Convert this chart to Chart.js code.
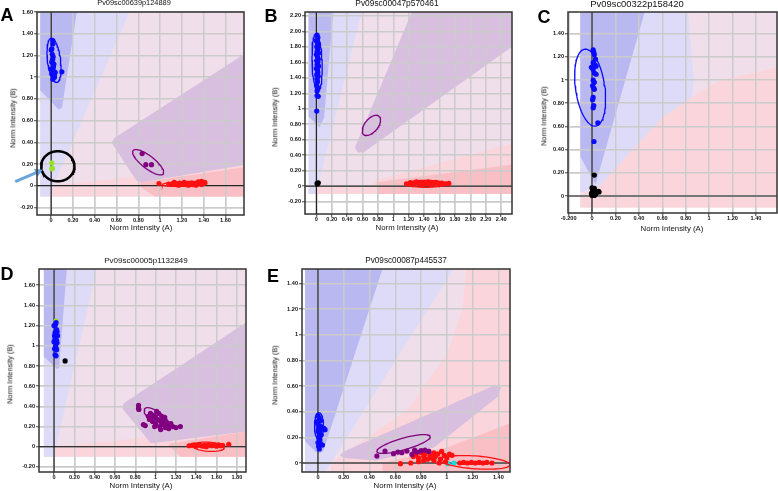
<!DOCTYPE html>
<html>
<head>
<meta charset="utf-8">
<script src="https://cdn.jsdelivr.net/npm/chart.js@4.4.1/dist/chart.umd.min.js"></script>
<style>
  body { margin: 0; background: #fff; width: 778px; height: 491px; position: relative; overflow: hidden; font-family: "Liberation Sans", Arial, sans-serif; }
  canvas { position: absolute; }
  .txt { position: absolute; white-space: nowrap; line-height: 1; color: #111; transform: translate(-50%, -50%); }
  .letter { font-weight: bold; font-size: 18px; color: #000; }
  .ytitle { transform: translate(-50%, -50%) rotate(-90deg); }
</style>
</head>
<body>
<script>
// --- texts ---
const panelLetters = ['A', 'B', 'C', 'D', 'E'];
const panelTitles = ['Pv09sc00639p124889', 'Pv09sc00047p570461', 'Pv09sc00322p158420', 'Pv09sc00005p1132849', 'Pv09sc00087p445537'];
const xAxisTitle = 'Norm Intensity (A)';
const yAxisTitle = 'Norm Intensity (B)';

// --- axis ranges (x, y) ---
const rangeA = [[-0.13, 1.77], [-0.27, 1.60]];
const rangeB = [[-0.147, 2.54], [-0.36, 2.25]];
const rangeC = [[-0.205, 1.58], [-0.147, 1.587]];
const rangeD = [[-0.148, 1.89], [-0.25, 1.76]];
const rangeE = [[-0.124, 1.49], [-0.07, 1.512]];

// --- panel A ---
const aBlue = [[0.015,1.336],[0.015,1.305],[0.006,1.26],[0.01,1.21],[0.018,1.19],[0.015,1.167],[0.006,1.136],[0.025,1.12],[0.021,1.105],[-0.003,1.074],[0.021,1.058],[0.037,1.043],[0.098,1.049],[0.006,1.028],[0.03,1.01],[0.015,0.981],[0.02,1.09],[0.01,1.15],[0.03,1.0],[0.0,1.25]];
const aGreen = [[0.006,0.21],[0.006,0.155],[0.012,0.16]];
const aPurple = [[0.835,0.296],[0.869,0.194],[0.921,0.194]];
const aRed = [[0.99,0.02],[1.08,0.015],[1.12,0.02],[1.15,0.01],[1.18,0.025],[1.2,0.015],[1.22,0.03],[1.24,0.01],[1.25,0.02],[1.27,0.015],[1.29,0.025],[1.3,0.01],[1.32,0.02],[1.34,0.015],[1.35,0.035],[1.36,0.02],[1.38,0.04],[1.38,0.01],[1.4,0.02],[1.41,0.03],[1.17,0.005],[1.26,0.005],[1.33,0.005],[1.13,0.03]];
// ellipses: [cx, cy, semi-major, semi-minor, angle deg]
const aBlueEll = [0.026, 1.155, 0.205, 0.06, 97];
const aPurpleEll = [0.89, 0.216, 0.175, 0.058, -38];
const aRedEll = [1.225, 0.016, 0.205, 0.022, 2];
const aCircle = [0.061, 0.179, 0.153, 0.139, 0];
const aArrow = [[-0.33, 0.037], [-0.12, 0.128]];
const aBase = [[-0.1,-0.1],[-0.1,1.6],[1.77,1.6],[1.77,-0.1]];
const aLightRed = [[0.0,-0.1],[0.02,0.0],[1.77,0.2],[1.77,-0.1]];
const aLightBlue = [[-0.1,-0.1],[-0.1,1.6],[0.72,1.6],[0.02,0.0],[0.0,-0.1]];
const aDarkBlue = [[-0.1,1.6],[0.235,1.6],[0.1,0.72],[0.07,0.70],[-0.1,0.88]];
const aPurpleZone = [[0.555,0.395],[0.58,0.44],[1.77,1.21],[1.77,0.19],[0.82,0.03],[0.78,0.05]];
const aDarkRed = [[0.82,0.03],[1.77,0.17],[1.77,-0.1],[0.95,-0.1],[0.82,-0.01]];

// --- panel B ---
const bBlue = [[0.01,1.95],[0.02,1.92],[0.0,1.88],[0.015,1.85],[0.025,1.82],[0.005,1.8],[0.02,1.77],[0.01,1.74],[0.03,1.72],[0.0,1.7],[0.015,1.67],[0.025,1.64],[0.005,1.62],[0.02,1.6],[0.01,1.57],[0.03,1.55],[0.0,1.52],[0.015,1.5],[0.02,1.47],[0.005,1.44],[0.025,1.42],[0.01,1.38],[0.015,1.35],[0.005,1.3],[0.02,1.27],[0.01,1.23],[0.01,1.17],[0.025,1.16],[0.005,0.97]];
const bBlack = [[0.026,0.043],[0.015,0.03],[0.01,0.035]];
const bRed = [[1.17,0.03],[1.22,0.045],[1.25,0.02],[1.28,0.04],[1.3,0.055],[1.33,0.03],[1.36,0.045],[1.38,0.02],[1.4,0.05],[1.43,0.035],[1.45,0.055],[1.47,0.025],[1.5,0.045],[1.52,0.03],[1.55,0.05],[1.58,0.035],[1.6,0.02],[1.63,0.04],[1.68,0.03],[1.72,0.035]];
const bBlueEll = [0.01, 1.6, 0.37, 0.065, 92];
const bPurpleEll = [0.715, 0.785, 0.155, 0.085, 50];
const bRedEll = [1.42, 0.03, 0.26, 0.045, 0];
const bBase = [[-0.1,-0.1],[-0.1,2.25],[2.54,2.25],[2.54,-0.1]];
const bLightRed = [[-0.1,-0.1],[-0.1,0.0],[0.72,0.0],[0.78,0.08],[2.54,0.55],[2.54,-0.1]];
const bLightBlue = [[-0.1,-0.1],[-0.1,2.25],[0.59,2.25],[0.02,0.0],[0.0,-0.1]];
const bDarkBlue = [[-0.1,2.25],[0.22,2.25],[0.1,0.88],[0.04,0.76],[-0.1,0.9]];
const bPurpleZone = [[0.5,0.5],[1.24,2.25],[2.54,2.25],[2.54,1.8],[0.62,0.44],[0.54,0.43]];
const bDarkRed = [[0.8,-0.1],[0.78,0.05],[2.54,0.28],[2.54,-0.1]];

// --- panel C ---
const cBlue = [[0.01,1.26],[0.015,1.24],[0.02,1.22],[0.03,1.18],[0.01,1.15],[0.025,1.13],[-0.005,1.11],[0.035,1.12],[0.01,1.09],[0.02,1.06],[0.035,1.05],[0.01,1.0],[0.02,0.98],[0.005,0.95],[0.015,0.93],[0.02,0.92],[0.01,0.85],[0.005,0.83],[0.015,0.78],[0.01,0.76],[0.05,0.63],[0.017,0.47]];
const cBlack = [[0.02,0.18],[0.0,0.07],[0.01,0.06],[0.02,0.065],[0.005,0.045],[0.015,0.04],[0.0,0.03],[0.02,0.025],[0.03,0.035],[0.055,0.04],[0.06,0.035],[0.01,0.01],[0.0,0.005],[0.02,0.005],[0.03,0.015],[0.04,0.03],[-0.005,0.02]];
const cBlueEll = [-0.016, 0.934, 0.335, 0.125, 98];
const cBase = [[-0.1,-0.1],[-0.1,1.587],[1.58,1.587],[1.58,-0.1]];
const cLightRed = [[-0.1,-0.1],[-0.1,0.0],[0.05,0.07],[0.3,0.35],[0.6,0.68],[0.88,0.87],[1.1,1.0],[1.58,1.11],[1.58,-0.1]];
const cLightBlue = [[-0.1,0.03],[-0.1,1.587],[0.82,1.587],[0.87,1.0],[0.85,0.85],[0.6,0.68],[0.3,0.35],[0.05,0.07]];
const cDarkBlue = [[-0.1,1.587],[0.45,1.587],[0.03,0.1],[-0.1,0.34]];

// --- panel D ---
const dBlue = [[0.02,1.23],[0.015,1.21],[0.0,1.2],[0.025,1.16],[0.01,1.13],[0.03,1.14],[0.005,1.1],[0.02,1.09],[0.035,1.1],[0.01,1.07],[0.025,1.05],[0.0,1.04],[0.03,1.03],[0.015,1.0],[0.02,0.98],[0.005,0.97],[0.025,0.96],[0.01,0.91],[0.02,0.9]];
const dGreen = [[0.02,1.245]];
const dBlack = [[0.109,0.85]];
const dPurple = [[0.832,0.41],[0.832,0.38],[0.835,0.37],[0.898,0.21],[0.88,0.22],[0.93,0.3],[0.95,0.33],[0.96,0.28],[0.97,0.25],[0.98,0.31],[1.0,0.29],[1.0,0.23],[1.02,0.27],[1.03,0.33],[1.04,0.2],[1.05,0.25],[1.06,0.3],[1.07,0.22],[1.08,0.27],[1.1,0.24],[1.1,0.19],[1.12,0.21],[1.13,0.18],[1.15,0.23],[1.17,0.2],[1.2,0.19],[1.244,0.2],[0.99,0.2],[1.01,0.35],[0.94,0.27],[1.05,0.17],[1.09,0.29]];
const dRed = [[1.33,0.01],[1.36,0.015],[1.4,0.005],[1.43,0.02],[1.45,0.01],[1.48,0.015],[1.5,0.0],[1.52,0.02],[1.55,0.01],[1.57,0.015],[1.6,0.005],[1.62,0.02],[1.64,0.01],[1.66,0.015],[1.72,0.025],[1.38,0.02],[1.47,0.005],[1.58,0.02]];
const dPurpleEll = [1.017, 0.279, 0.158, 0.06, -38];
const dRedEll = [1.52, 0.0, 0.155, 0.045, -4];
const dBase = [[-0.1,-0.1],[-0.1,1.76],[1.89,1.76],[1.89,-0.1]];
const dLightRed = [[0.0,-0.1],[0.02,0.0],[1.89,0.2],[1.89,-0.1]];
const dLightBlue = [[-0.1,-0.1],[-0.1,1.76],[0.42,1.76],[0.02,0.0],[0.0,-0.1]];
const dDarkBlue = [[-0.1,1.76],[0.125,1.76],[0.05,0.78],[0.03,0.77],[-0.1,0.89]];
const dPurpleZone = [[0.67,0.40],[0.70,0.44],[1.89,1.23],[1.89,0.15],[1.0,0.04],[0.95,0.04],[0.68,0.37]];
const dDarkRed = [[1.13,0.03],[1.89,0.15],[1.89,-0.1],[1.25,-0.1],[1.13,0.0]];

// --- panel E ---
const eBlue = [[0.0,0.37],[0.01,0.35],[0.02,0.33],[-0.01,0.32],[0.0,0.3],[0.015,0.29],[0.03,0.28],[0.005,0.27],[0.02,0.26],[0.045,0.27],[0.0,0.25],[0.01,0.23],[0.025,0.22],[0.005,0.2],[0.015,0.18],[0.0,0.16],[0.02,0.15],[0.005,0.13],[0.01,0.11],[0.035,0.14],[0.055,0.26]];
const ePurple = [[0.457,0.054],[0.52,0.093],[0.586,0.073],[0.62,0.085],[0.651,0.08],[0.69,0.093],[0.729,0.067],[0.75,0.1],[0.77,0.085],[0.8,0.096],[0.83,0.1],[0.86,0.09]];
const eRed = [[0.64,-0.005],[0.72,0.0],[0.78,0.01],[0.74,0.05],[0.76,0.07],[0.78,0.04],[0.8,0.08],[0.82,0.05],[0.83,0.07],[0.85,0.03],[0.86,0.09],[0.87,0.06],[0.88,0.04],[0.9,0.08],[0.91,0.05],[0.93,0.07],[0.95,0.03],[0.96,0.09],[0.98,0.06],[1.0,0.04],[1.02,0.07],[0.9,0.02],[0.82,0.02],[0.94,0.0],[1.1,0.0],[1.13,0.005],[1.16,0.0],[1.19,0.005],[1.22,0.0],[1.25,0.005],[1.28,0.0],[1.31,0.005],[1.35,0.0],[1.04,0.06],[0.99,0.01]];
const eCyan = [[1.008,-0.005],[1.056,0.0]];
const eBlueEll = [0.008, 0.288, 0.105, 0.035, 90];
const ePurpleEll = [0.664, 0.148, 0.215, 0.045, 16];
const eRedEll = [1.22, 0.005, 0.27, 0.05, -4];
const eBase = [[-0.1,-0.07],[-0.1,1.512],[1.49,1.512],[1.49,-0.07]];
const eLightRed = [[0.1,-0.07],[0.1,0.0],[0.7,0.42],[1.0,0.85],[1.12,1.2],[1.15,1.512],[1.49,1.512],[1.49,-0.07]];
const eLightBlue = [[-0.1,-0.07],[-0.1,1.512],[1.05,1.512],[0.1,0.0],[0.05,-0.07]];
const eDarkBlue = [[-0.1,1.512],[0.5,1.512],[0.04,0.09],[0.0,0.07],[-0.1,0.17]];
const ePurpleZone = [[0.17,0.06],[0.2,0.09],[1.38,0.61],[1.42,0.59],[1.4,0.52],[0.9,0.12],[0.45,0.02],[0.2,0.04]];
const eDarkRed = [[0.5,-0.07],[0.5,0.0],[1.0,0.12],[1.49,0.31],[1.49,-0.07]];

// --- styles ---
const FONT = '"Liberation Sans", Arial, sans-serif';
const shade = { base: '#f0dfeb', lightBlue: '#dddbf7', darkBlue: '#b9b8f1', lightRed: '#fad6dc', purple: '#d8bfdf', darkRed: '#fabfc4' };
const dot = { blue: '#0a0aff', purple: '#800080', red: '#ff1010', black: '#000000', green: '#99e02a', cyan: '#19dcdc' };

const panels = [
  { range: rangeA, area: [37, 245, 12, 215], letter: [7, 15], title: [134, 3, 7.4], xt: [141, 228], yt: [13, 118],
    fills: [[aBase, 'base'], [aLightRed, 'lightRed'], [aLightBlue, 'lightBlue'], [aDarkBlue, 'darkBlue'], [aPurpleZone, 'purple'], [aDarkRed, 'darkRed']],
    ells: [[aBlueEll, 'blue', 1.3], [aPurpleEll, 'purple', 1.3], [aRedEll, 'red', 1.3], [aCircle, 'black', 2.5]],
    dots: [[aBlue, 'blue'], [aGreen, 'green'], [aPurple, 'purple'], [aRed, 'red']], arrow: aArrow },
  { range: rangeB, area: [305, 512, 12, 214], letter: [271, 16], title: [397, 3, 8.4], xt: [407, 228], yt: [275, 117],
    fills: [[bBase, 'base'], [bLightRed, 'lightRed'], [bLightBlue, 'lightBlue'], [bDarkBlue, 'darkBlue'], [bPurpleZone, 'purple'], [bDarkRed, 'darkRed']],
    ells: [[bBlueEll, 'blue', 1.3], [bPurpleEll, 'purple', 1.3], [bRedEll, 'red', 1.3]],
    dots: [[bBlue, 'blue'], [bBlack, 'black'], [bRed, 'red']] },
  { range: rangeC, area: [568, 777, 12, 213], letter: [544, 17], title: [637, 4, 9.4], xt: [672, 229], yt: [544, 116],
    fills: [[cBase, 'base'], [cLightRed, 'lightRed'], [cLightBlue, 'lightBlue'], [cDarkBlue, 'darkBlue']],
    ells: [[cBlueEll, 'blue', 1.3]],
    dots: [[cBlue, 'blue'], [cBlack, 'black']], zeroY: ['#777777', 2], xOverride: { '-0.20': '-0.200' } },
  { range: rangeD, area: [39, 246, 269, 472], letter: [7, 274], title: [146, 261, 8], xt: [141, 486], yt: [10, 374],
    fills: [[dBase, 'base'], [dLightRed, 'lightRed'], [dLightBlue, 'lightBlue'], [dDarkBlue, 'darkBlue'], [dPurpleZone, 'purple'], [dDarkRed, 'darkRed']],
    ells: [[dPurpleEll, 'purple', 1.3], [dRedEll, 'red', 1.3]],
    dots: [[dBlue, 'blue'], [dGreen, 'green'], [dBlack, 'black'], [dPurple, 'purple'], [dRed, 'red']] },
  { range: rangeE, area: [302, 510, 269, 472], letter: [273, 276], title: [406, 261, 8.2], xt: [405, 486], yt: [275, 375],
    fills: [[eBase, 'base'], [eLightRed, 'lightRed'], [eLightBlue, 'lightBlue'], [eDarkBlue, 'darkBlue'], [ePurpleZone, 'purple'], [eDarkRed, 'darkRed']],
    ells: [[eBlueEll, 'blue', 1.3], [ePurpleEll, 'purple', 1.3], [eRedEll, 'red', 1.3]],
    dots: [[eBlue, 'blue'], [ePurple, 'purple'], [eRed, 'red'], [eCyan, 'cyan']] }
];

const Y_AXIS_W = 40, X_AXIS_H = 16, PAD_T = 10, PAD_R = 4;

function toXY(list) { return list.map(([x, y]) => ({ x, y })); }

function ellipsePoints([cx, cy, a, b, deg]) {
  const t = deg * Math.PI / 180, pts = [];
  for (let i = 0; i <= 72; i++) {
    const u = i / 72 * 2 * Math.PI;
    pts.push({ x: cx + a * Math.cos(u) * Math.cos(t) - b * Math.sin(u) * Math.sin(t),
               y: cy + a * Math.cos(u) * Math.sin(t) + b * Math.sin(u) * Math.cos(t) });
  }
  return pts;
}

function fmtTick(v) {
  if (Math.abs(v) < 1e-9) return '0';
  if (Math.abs(v - 1) < 1e-9) return '1';
  return v.toFixed(2);
}

function makeScale(isX, range, override) {
  return {
    type: 'linear', min: range[0], max: range[1],
    ticks: {
      stepSize: 0.2, includeBounds: false, autoSkip: false, maxRotation: 0, minRotation: 0,
      color: '#111', padding: isX ? -1 : 1,
      font: { family: FONT, size: 5.6, weight: 'bold' },
      callback: v => { const s = fmtTick(v); return (override && override[s]) || s; }
    },
    grid: { color: '#cbcbcb', lineWidth: 1.5, tickLength: 3, tickColor: '#444', tickWidth: 1 },
    border: { display: false },
    afterFit: s => { if (isX) s.height = X_AXIS_H; else s.width = Y_AXIS_W; }
  };
}

// grid lines go over the shaded zones, under the marks
const gridOverZones = {
  id: 'gridOverZones',
  afterDatasetDraw(chart, args) {
    if (!chart.data.datasets[args.index].gridAfter) return;
    const area = chart.chartArea, ctx = chart.ctx;
    ctx.save();
    ctx.beginPath();
    ctx.rect(area.left, area.top, area.right - area.left, area.bottom - area.top);
    ctx.clip();
    chart.scales.x.drawGrid(area);
    chart.scales.y.drawGrid(area);
    ctx.restore();
  }
};

const frame = {
  id: 'frame',
  afterDraw(chart) {
    const a = chart.chartArea, ctx = chart.ctx;
    ctx.save();
    ctx.strokeStyle = '#333';
    ctx.lineWidth = 1.5;
    ctx.strokeRect(a.left, a.top, a.right - a.left, a.bottom - a.top);
    ctx.restore();
  }
};

function addText(text, x, y, cls, size) {
  const d = document.createElement('div');
  d.className = 'txt ' + cls;
  d.textContent = text;
  d.style.left = x + 'px';
  d.style.top = y + 'px';
  if (size) d.style.fontSize = size + 'px';
  document.body.appendChild(d);
}

panels.forEach((p, i) => {
  const [l, r, t, b] = p.area;
  const left = l - Y_AXIS_W, top = t - PAD_T;
  const canvas = document.createElement('canvas');
  canvas.width = r - left + PAD_R;
  canvas.height = b - top + X_AXIS_H;
  canvas.style.left = left + 'px';
  canvas.style.top = top + 'px';
  document.body.appendChild(canvas);

  const [xr, yr] = p.range;
  const datasets = [];
  p.fills.forEach(([pts, key], k) => {
    datasets.push({ data: toXY(pts), backgroundColor: shade[key], borderWidth: 0, pointRadius: 0,
      fill: 'shape', order: 100 - k, gridAfter: k === p.fills.length - 1 });
  });
  const zy = p.zeroY || ['#000', 1];
  datasets.push({ data: [{ x: 0, y: yr[0] }, { x: 0, y: yr[1] }], borderColor: '#000', borderWidth: 1, pointRadius: 0, fill: false, order: 5 });
  datasets.push({ data: [{ x: xr[0], y: 0 }, { x: xr[1], y: 0 }], borderColor: zy[0], borderWidth: zy[1], pointRadius: 0, fill: false, order: 5 });
  p.dots.forEach(([pts, key]) => {
    datasets.push({ data: toXY(pts), showLine: false, pointRadius: 2.6, pointBorderWidth: 0,
      pointBackgroundColor: dot[key], pointBorderColor: dot[key], order: 2 });
  });
  p.ells.forEach(([e, key, w]) => {
    datasets.push({ data: ellipsePoints(e), borderColor: dot[key], borderWidth: w, pointRadius: 0, fill: false, order: 1 });
  });
  if (p.arrow) {
    datasets.push({ data: toXY(p.arrow), borderColor: '#6aa6dc', borderWidth: 3, fill: false, clip: false,
      pointRadius: [0, 5], pointStyle: 'triangle', pointRotation: 66, pointBackgroundColor: '#6aa6dc',
      pointBorderWidth: 0, order: 0 });
  }

  new Chart(canvas, {
    type: 'line',
    data: { datasets },
    options: {
      responsive: false, animation: false, events: [],
      layout: { padding: { left: 0, top: PAD_T, right: PAD_R, bottom: 0 } },
      elements: { line: { tension: 0 } },
      plugins: { legend: { display: false }, tooltip: { enabled: false }, title: { display: false } },
      scales: { x: makeScale(true, xr, p.xOverride), y: makeScale(false, yr) }
    },
    plugins: [gridOverZones, frame]
  });

  addText(panelLetters[i], p.letter[0], p.letter[1], 'letter');
  addText(panelTitles[i], p.title[0], p.title[1], 'title', p.title[2]);
  addText(xAxisTitle, p.xt[0], p.xt[1], 'xtitle', 7.8);
  addText(yAxisTitle, p.yt[0], p.yt[1], 'ytitle', 7.4);
});
</script>
</body>
</html>
